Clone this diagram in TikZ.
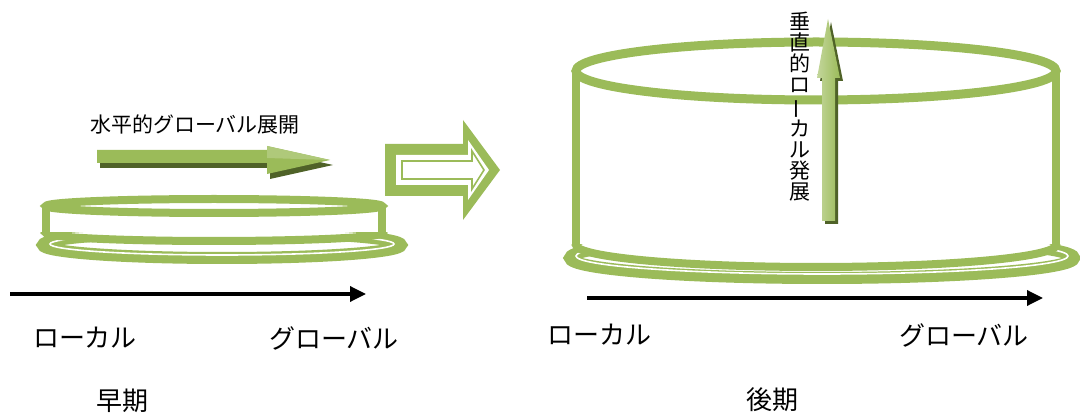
\documentclass[tikz,border=0pt]{standalone}
\usepackage{fontspec}
\setmainfont{Noto Sans CJK JP}
\usetikzlibrary{arrows.meta}
\definecolor{leaf}{HTML}{9BBB59}
\definecolor{leafdark}{HTML}{4F6228}
\definecolor{leaflight}{HTML}{C3D69B}
\tikzset{
  rim/.style={draw=leaf, line width=8pt},
  plateband/.style={draw=leaf, line width=12pt},
  plategap/.style={draw=white, line width=1.6pt},
  axis/.style={line width=3.4pt, -{Triangle[length=16pt,width=15pt]}},
  label/.style={font=\fontsize{26}{26}\selectfont, inner sep=0pt},
  era/.style={font=\fontsize{26}{26}\selectfont, inner sep=0pt},
}
\begin{document}
\begin{tikzpicture}[x=1pt,y=-1pt]
\useasboundingbox (0,0) rectangle (1080,414);

% ---------- early stage: thin disc ----------
\draw[plateband] (222,245) ellipse [x radius=179, y radius=13];
\draw[plategap] (222,244) ellipse [x radius=172, y radius=11];
\fill[white] (46,206) rectangle (382,233);
\fill[white] (214,233) ellipse [x radius=168, y radius=8];
\begin{scope}
  \clip (30,233) rectangle (400,260);
  \draw[rim] (214,233) ellipse [x radius=168, y radius=8];
\end{scope}
\draw[rim] (46,206) -- (46,234) (382,206) -- (382,234);
\draw[rim, fill=white] (214,206) ellipse [x radius=168, y radius=7];

% horizontal growth arrow
\fill[leafdark] (100,155) -- (270,155) -- (270,151) -- (333,165) -- (270,179) -- (270,168) -- (100,168) -- cycle;
\fill[leaf] (97,150) -- (267,150) -- (267,146) -- (330,160) -- (267,174) -- (267,163) -- (97,163) -- cycle;
\fill[leaf!80!white] (267,146) -- (330,160) -- (267,158) -- cycle;
\node[font=\fontsize{21}{21}\selectfont, inner sep=0pt] (hlabel) at (195,125) {水平的グローバル展開};

% early axis and labels
\coordinate (a1s) at (10,294);
\coordinate (a1e) at (366,294);
\draw[axis] (a1s) -- (a1e);
\node[label] (l1) at (85,338) {ローカル};
\node[label] (g1) at (334,338) {グローバル};
\node[era] (early) at (122,401) {早期};

% ---------- transition arrow ----------
\fill[leaf] (385,144) -- (463,144) -- (463,120) -- (500,170) -- (463,220) -- (463,196) -- (385,196) -- cycle;
\fill[white] (396,155) -- (468,155) -- (468,140) -- (489,170) -- (468,200) -- (468,185) -- (396,185) -- cycle;
\draw[leaf, line width=1.6pt] (402,161) -- (472,161) -- (472,151) -- (484,170) -- (472,189) -- (472,179) -- (402,179) -- cycle;

% ---------- late stage: tall cylinder ----------
\draw[plateband, line width=12pt] (822,258) ellipse [x radius=252, y radius=20];
\draw[plategap] (822,256) ellipse [x radius=246, y radius=18];
\fill[white] (576,71) rectangle (1056,245);
\fill[white] (816,245) ellipse [x radius=240, y radius=22];
\begin{scope}
  \clip (560,245) rectangle (1080,290);
  \draw[rim] (816,245) ellipse [x radius=240, y radius=22];
\end{scope}
\draw[rim] (576,71) -- (576,246) (1056,71) -- (1056,246);
\draw[rim, line width=9pt] (816,71) ellipse [x radius=240, y radius=29];

% vertical growth arrow
\fill[leafdark] (825,224) -- (825,81) -- (820,81) -- (831,22) -- (843,81) -- (838,81) -- (838,224) -- cycle;
\shade[left color=leaflight, right color=leaf] (822,221) -- (822,78) -- (817,78) -- (828,19) -- (840,78) -- (835,78) -- (835,221) -- cycle;
\node[font=\fontsize{21}{20.9}\selectfont, inner sep=0pt, align=center, anchor=north] (vlabel) at (800,12)
  {垂\\直\\的\\ロ\\\rotatebox[origin=c]{90}{ー}\\カ\\ル\\発\\展};

% late axis and labels
\coordinate (a2s) at (587,298);
\coordinate (a2e) at (1043,298);
\draw[axis] (a2s) -- (a2e);
\node[label] (l2) at (599,335) {ローカル};
\node[label] (g2) at (964,335) {グローバル};
\node[era] (late) at (772,400) {後期};
\end{tikzpicture}
\end{document}
